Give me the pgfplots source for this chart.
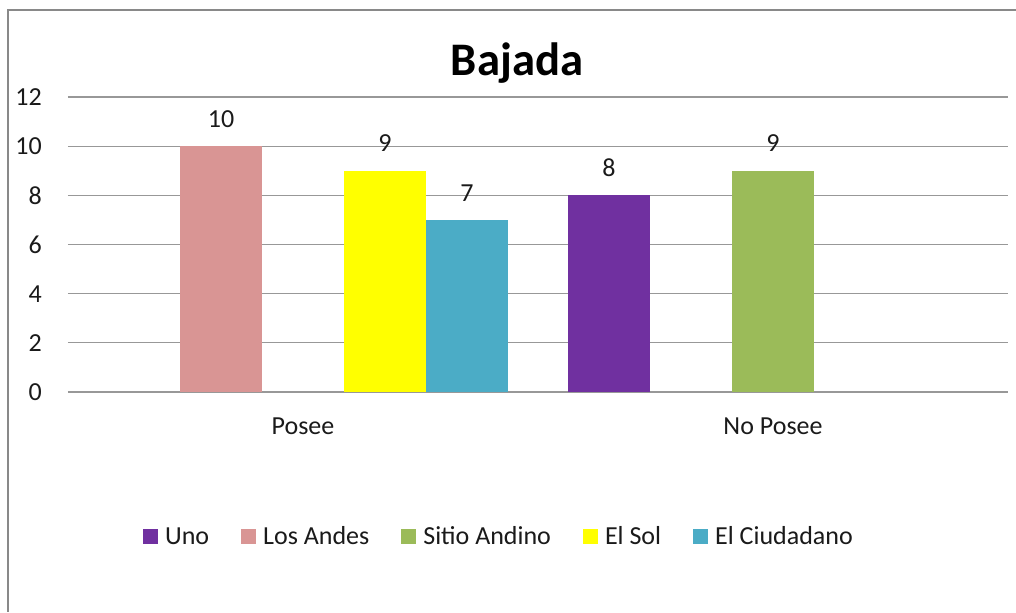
\documentclass[border=0pt]{standalone}
\usepackage{pgfplots}
\pgfplotsset{compat=1.18}
\usepackage{fontspec}
\setmainfont{Carlito}
\definecolor{cUno}{HTML}{7030A0}
\definecolor{cAndes}{HTML}{D99594}
\definecolor{cSitio}{HTML}{9BBB59}
\definecolor{cSol}{HTML}{FFFF00}
\definecolor{cCiud}{HTML}{4BACC6}
\definecolor{gridc}{HTML}{989898}
\definecolor{borderc}{HTML}{898989}
\definecolor{txt}{HTML}{1A1A1A}
\newcommand{\lblfont}{\fontsize{19.5}{23}\selectfont}
\pgfplotsset{sq/.style={legend image code/.code={\fill[##1, draw=none] (0pt,-5.6pt) rectangle (11.25pt,5.6pt);}}}
\begin{document}
\begin{tikzpicture}
\useasboundingbox (0pt,0pt) rectangle (762pt,459pt);
\fill[color=borderc] (5.05pt,0pt) rectangle (6.95pt,452.45pt);
\fill[color=borderc] (5.05pt,450.55pt) rectangle (762pt,452.45pt);
\node[anchor=base, font=\bfseries\fontsize{35}{42}\selectfont, inner sep=0pt, text=black] at (387.75pt,402.75pt) {Bajada};
\begin{axis}[
  at={(51pt,165pt)}, anchor=south west,
  scale only axis, width=705pt, height=221.25pt,
  ybar=0pt, bar width=61.5pt,
  xmin=-0.5, xmax=1.5, ymin=0, ymax=12,
  xtick={0,1}, xticklabels={Posee, No Posee},
  ytick={0,2,4,6,8,10,12},
  ymajorgrids, major grid style={color=gridc, line width=0.8pt},
  axis x line*=bottom, axis y line*=left,
  x axis line style={draw=none, -}, y axis line style={draw=none, -},
  tick style={draw=none},
  /pgf/number format/assume math mode=true,
  tick label style={font=\lblfont, text=txt},
  yticklabel style={anchor=east, inner sep=0pt, xshift=-19.5pt},
  xticklabel style={anchor=base, inner sep=0pt, yshift=-27.75pt},
  nodes near coords,
  every node near coord/.append style={font=\lblfont, text=txt, inner sep=0pt, text depth=0pt, anchor=south, yshift=13.9pt},
  legend columns=5,
  legend style={at={(0.4574,-0.49)}, anchor=center, draw=none, inner sep=0pt, font=\lblfont, text=txt,
    nodes={inner sep=0pt, text depth=0pt, text height=11.2pt},
    /tikz/every odd column/.append style={column sep=5.25pt},
    /tikz/every even column/.append style={column sep=24pt}},
]
\addplot[fill=cUno, draw=none, sq] coordinates {(1,8)};
\addlegendentry{Uno}
\addplot[fill=cAndes, draw=none, sq] coordinates {(0,10)};
\addlegendentry{Los Andes}
\addplot[fill=cSitio, draw=none, sq] coordinates {(1,9)};
\addlegendentry{Sitio Andino}
\addplot[fill=cSol, draw=none, sq] coordinates {(0,9)};
\addlegendentry{El Sol}
\addplot[fill=cCiud, draw=none, sq] coordinates {(0,7)};
\addlegendentry{El Ciudadano}
\end{axis}
\end{tikzpicture}
\end{document}
